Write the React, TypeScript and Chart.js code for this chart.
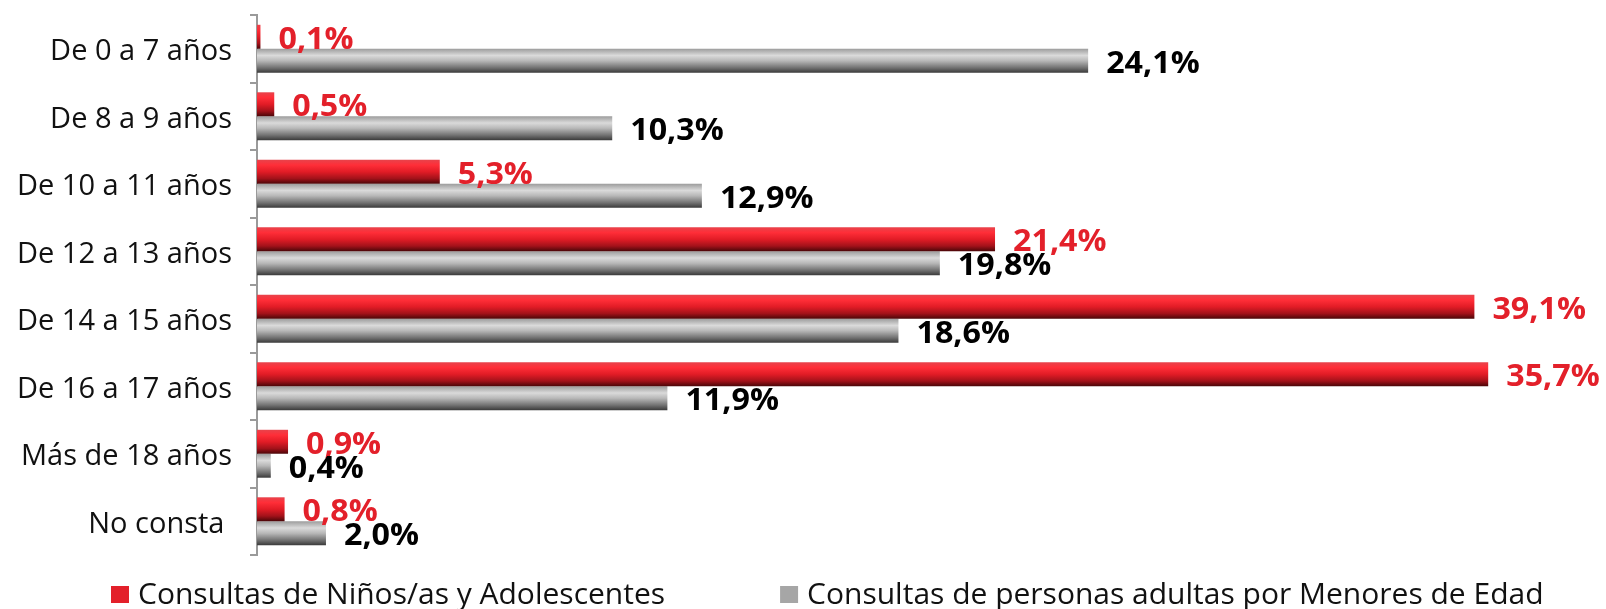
import React, { useEffect, useRef } from 'react';
import { Chart, registerables } from 'chart.js';

Chart.register(...registerables);

// ---- data ----
const categories = [
  'De 0 a 7 años',
  'De 8 a 9 años',
  'De 10 a 11 años',
  'De 12 a 13 años',
  'De 14 a 15 años',
  'De 16 a 17 años',
  'Más de 18 años',
  'No consta ',
];
// bar lengths as drawn (the 14-15 bar is drawn at ~35.3 although labelled 39,1%)
const ninosValues = [0.1, 0.5, 5.3, 21.4, 35.3, 35.7, 0.9, 0.8];
const ninosLabels = ['0,1%', '0,5%', '5,3%', '21,4%', '39,1%', '35,7%', '0,9%', '0,8%'];
const adultosValues = [24.1, 10.3, 12.9, 19.8, 18.6, 11.9, 0.4, 2.0];
const adultosLabels = ['24,1%', '10,3%', '12,9%', '19,8%', '18,6%', '11,9%', '0,4%', '2,0%'];
const seriesNames = [
  'Consultas de Niños/as y Adolescentes',
  'Consultas de personas adultas por Menores de Edad',
];
const xMax = 39;

// ---- styles ----
const CAT_PCT = 0.71;
const FONT = '"Open Sans", "Noto Sans", sans-serif';
const redStops: [number, string][] = [
  [0, '#e8434b'],
  [0.22, '#ff2e38'],
  [0.5, '#e21c26'],
  [0.78, '#a3121a'],
  [1, '#4a0608'],
];
const grayStops: [number, string][] = [
  [0, '#9c9c9c'],
  [0.28, '#dadada'],
  [0.5, '#b8b8b8'],
  [0.8, '#707070'],
  [1, '#3a3a3a'],
];
const labelColors = ['#e3202a', '#000000'];
const legendColors = ['#e3202a', '#a6a6a6'];
const seriesLabels = [ninosLabels, adultosLabels];

function barGradient(stops: [number, string][]) {
  return (c: any) => {
    const chart = c.chart;
    const y = chart.scales && chart.scales.y;
    if (!chart.chartArea || !y || c.type !== 'data') return stops[2][1];
    const n = chart.data.labels.length;
    const cat = (y.bottom - y.top) / n;
    const thick = (cat * CAT_PCT) / 2;
    const center = y.getPixelForValue(c.dataIndex);
    const top = center - thick + c.datasetIndex * thick;
    const g = chart.ctx.createLinearGradient(0, top, 0, top + thick);
    stops.forEach(([o, col]) => g.addColorStop(o, col));
    return g;
  };
}

const barLabelPlugin = {
  id: 'barLabels',
  afterDatasetsDraw(chart: any) {
    const ctx = chart.ctx;
    chart.data.datasets.forEach((_ds: any, di: number) => {
      const meta = chart.getDatasetMeta(di);
      meta.data.forEach((bar: any, i: number) => {
        const { x, y } = bar.getProps(['x', 'y'], true);
        ctx.save();
        ctx.font = `bold 31px ${FONT}`;
        ctx.fillStyle = labelColors[di];
        ctx.textAlign = 'left';
        ctx.textBaseline = 'alphabetic';
        ctx.translate(x + 18, y + 12);
        ctx.scale(1.04, 1);
        ctx.fillText(seriesLabels[di][i], 0, 0);
        ctx.restore();
      });
    });
  },
};

const legendPlugin = {
  id: 'bottomLegend',
  afterDraw(chart: any) {
    const ctx = chart.ctx;
    ctx.save();
    ctx.font = `30px ${FONT}`;
    ctx.textAlign = 'left';
    ctx.textBaseline = 'alphabetic';
    let x = 111;
    chart.data.datasets.forEach((ds: any, i: number) => {
      ctx.fillStyle = legendColors[i];
      ctx.fillRect(x, 586, 18, 17);
      ctx.fillStyle = '#111111';
      ctx.fillText(ds.label, x + 27, 604);
      x += 27 + ctx.measureText(ds.label).width + 115;
    });
    ctx.restore();
  },
};

export default function App() {
  const ref = useRef<HTMLCanvasElement | null>(null);

  useEffect(() => {
    document.body.style.margin = '0';
    if (!ref.current) return;
    const chart = new Chart(ref.current, {
      type: 'bar',
      data: {
        labels: categories,
        datasets: [
          {
            label: seriesNames[0],
            data: ninosValues,
            backgroundColor: barGradient(redStops) as any,
            borderWidth: 0,
            categoryPercentage: CAT_PCT,
            barPercentage: 1,
          },
          {
            label: seriesNames[1],
            data: adultosValues,
            backgroundColor: barGradient(grayStops) as any,
            borderWidth: 0,
            categoryPercentage: CAT_PCT,
            barPercentage: 1,
          },
        ],
      },
      options: {
        indexAxis: 'y',
        animation: false,
        responsive: false,
        maintainAspectRatio: false,
        layout: { padding: { left: 0, right: 4, top: 15, bottom: 54 } },
        plugins: {
          legend: { display: false },
          tooltip: { enabled: false },
          title: { display: false },
        },
        scales: {
          x: {
            display: false,
            min: 0,
            max: xMax,
            grid: { display: false },
          },
          y: {
            type: 'category',
            afterFit: (s: any) => {
              s.width = 257;
              s.paddingTop = 0;
              s.paddingBottom = 0;
            },
            border: { display: true, color: '#9a9a9a', width: 2 },
            grid: {
              display: true,
              drawOnChartArea: false,
              drawTicks: true,
              tickLength: 7,
              color: '#9a9a9a',
              lineWidth: 2,
              offset: true,
            },
            ticks: {
              padding: 18,
              labelOffset: 3,
              color: '#111111',
              font: { family: FONT, size: 29, weight: 'normal' },
            },
          },
        },
      },
      plugins: [barLabelPlugin, legendPlugin],
    } as any);
    return () => chart.destroy();
  }, []);

  return (
    <div style={{ position: 'absolute', left: 0, top: 0, width: 1606, height: 609 }}>
      <canvas ref={ref} width={1606} height={609} />
    </div>
  );
}
